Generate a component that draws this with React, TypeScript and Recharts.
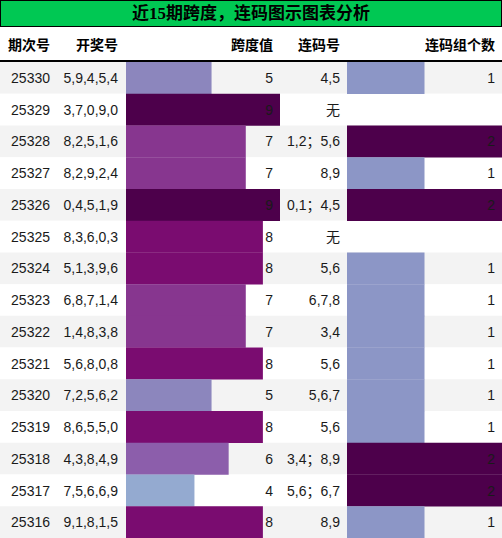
import React from 'react';
import { BarChart, Bar, XAxis, YAxis, Cell, ReferenceArea, LabelList } from 'recharts';

document.body.style.margin = '0';

const periods = ['25330', '25329', '25328', '25327', '25326', '25325', '25324', '25323', '25322', '25321', '25320', '25319', '25318', '25317', '25316'];
const draws = ['5,9,4,5,4', '3,7,0,9,0', '8,2,5,1,6', '8,2,9,2,4', '0,4,5,1,9', '8,3,6,0,3', '5,1,3,9,6', '6,8,7,1,4', '1,4,8,3,8', '5,6,8,0,8', '7,2,5,6,2', '8,6,5,5,0', '4,3,8,4,9', '7,5,6,6,9', '9,1,8,1,5'];
const spans = [5, 9, 7, 7, 9, 8, 8, 7, 7, 8, 5, 8, 6, 4, 8];
const runs = ['4,5', '无', '1,2；5,6', '8,9', '0,1；4,5', '无', '5,6', '6,7,8', '3,4', '5,6', '5,6,7', '5,6', '3,4；8,9', '5,6；6,7', '8,9'];
const runCounts = [1, 0, 2, 1, 2, 0, 1, 1, 1, 1, 1, 1, 2, 2, 1];
const headers = ['期次号', '开奖号', '跨度值', '连码号', '连码组个数'];

const SPAN_COLORS: Record<number, string> = {
  4: '#94aad0',
  5: '#8c86bd',
  6: '#8c5eab',
  7: '#87368f',
  8: '#7a0c70',
  9: '#4d004b',
};
const COUNT_COLORS: Record<number, string> = { 0: '#8c96c6', 1: '#8c96c6', 2: '#4d004b' };

const W = 502;
const TOP = 62;
const BODY_H = 476;
const FONT = '"Liberation Sans", Arial, "Noto Sans CJK SC", sans-serif';
const TEXT = '#1a1a1a';

const rows = periods.map((p, i) => ({
  period: p,
  draw: draws[i],
  span: spans[i],
  run: runs[i],
  runCount: runCounts[i],
}));

// column cells: [left, width]
const cols: [number, number][] = [
  [0, 57],
  [57, 68],
  [126, 154],
  [280, 67],
  [347, 155],
];

// text for the plain columns, drawn as labels on an invisible full-width series
const RowText = (props: any) => {
  const { y, height, index } = props;
  const r = rows[index];
  if (!r) return null;
  const cy = y + height / 2;
  const t = { fontSize: 14, fill: TEXT, fontFamily: FONT, textAnchor: 'end' as const, dominantBaseline: 'central' as const };
  return (
    <g>
      <text x={50} y={cy} {...t}>{r.period}</text>
      <text x={118} y={cy} {...t}>{r.draw}</text>
      <text x={340} y={cy} {...t}>{r.run}</text>
    </g>
  );
};

const rightLabel = (w: number) => (props: any) => {
  const { y, height, value } = props;
  return (
    <text x={w - 7} y={y + height / 2} fontSize={14} fill={TEXT} fontFamily={FONT}
      textAnchor="end" dominantBaseline="central">
      {value}
    </text>
  );
};

export default function App() {
  return (
    <div style={{ position: 'relative', width: W, height: 538, background: '#fff', overflow: 'hidden' }}>
      <div style={{
        position: 'absolute', left: 0, top: 0, width: W, height: 27, boxSizing: 'border-box',
        border: '1px solid #000', background: '#00c853', textAlign: 'center', lineHeight: '25px',
        fontSize: 17, fontWeight: 700, color: '#000',
        fontFamily: '"Liberation Serif", "Noto Sans CJK SC", serif',
      }}>
        近15期跨度，连码图示图表分析
      </div>
      <div style={{ position: 'absolute', left: 0, top: 27, width: W, height: 35, borderBottom: '2px solid #000', boxSizing: 'border-box' }}>
        {headers.map((h, i) => (
          <div key={h} style={{
            position: 'absolute', left: cols[i][0], width: cols[i][1], top: 0, height: 33,
            lineHeight: '35px', textAlign: 'right', paddingRight: 7, boxSizing: 'border-box',
            fontSize: 14, fontWeight: 700, color: '#000', fontFamily: '"Noto Sans CJK SC", sans-serif',
          }}>{h}</div>
        ))}
      </div>

      <div style={{ position: 'absolute', left: 0, top: TOP }}>
        <BarChart width={W} height={BODY_H} data={rows} layout="vertical" barCategoryGap={0}
          margin={{ top: 0, right: 0, bottom: 0, left: 0 }}>
          <XAxis type="number" hide domain={[0, 9]} allowDataOverflow />
          <YAxis type="category" dataKey="period" hide />
          {rows.map((r, i) => (
            <ReferenceArea key={r.period} y1={r.period} y2={r.period}
              fill={i % 2 === 0 ? '#f3f3f3' : '#ffffff'} fillOpacity={1} stroke="none" />
          ))}
          <Bar dataKey="span" fill="#ffffff" fillOpacity={0} isAnimationActive={false}>
            <LabelList dataKey="period" content={RowText} />
          </Bar>
        </BarChart>
      </div>

      <div style={{ position: 'absolute', left: 126, top: TOP }}>
        <BarChart width={154} height={BODY_H} data={rows} layout="vertical" barCategoryGap={0}
          margin={{ top: 0, right: 0, bottom: 0, left: 0 }}>
          <XAxis type="number" hide domain={[0, 9]} allowDataOverflow />
          <YAxis type="category" dataKey="period" hide />
          <Bar dataKey="span" isAnimationActive={false}>
            {rows.map(r => <Cell key={r.period} fill={SPAN_COLORS[r.span]} />)}
            <LabelList dataKey="span" content={rightLabel(154)} />
          </Bar>
        </BarChart>
      </div>

      <div style={{ position: 'absolute', left: 347, top: TOP }}>
        <BarChart width={155} height={BODY_H} data={rows} layout="vertical" barCategoryGap={0}
          margin={{ top: 0, right: 0, bottom: 0, left: 0 }}>
          <XAxis type="number" hide domain={[0, 2]} allowDataOverflow />
          <YAxis type="category" dataKey="period" hide />
          <Bar dataKey="runCount" isAnimationActive={false}>
            {rows.map(r => <Cell key={r.period} fill={COUNT_COLORS[r.runCount]} />)}
            <LabelList dataKey="runCount" content={rightLabel(155)} />
          </Bar>
        </BarChart>
      </div>
    </div>
  );
}
